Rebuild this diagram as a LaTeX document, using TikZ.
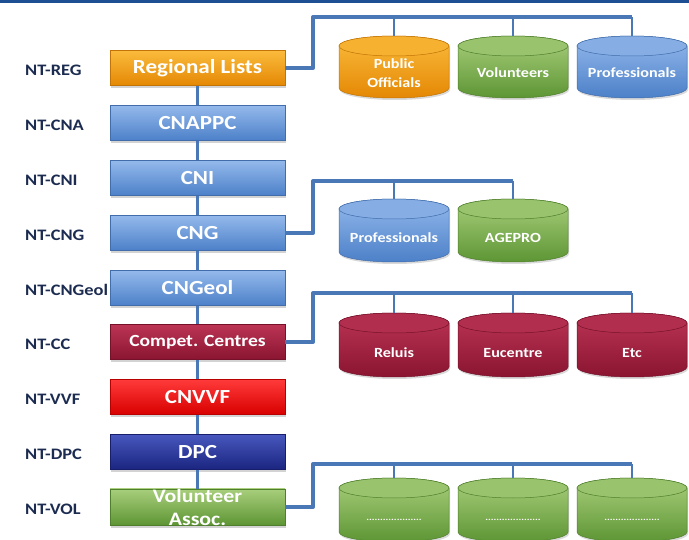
\documentclass[tikz,border=0pt]{standalone}
\usepackage{fontspec}
\setmainfont{Carlito}[FakeStretch=1.15]
\usetikzlibrary{shadows}
\definecolor{orT}{HTML}{FBBB3C}\definecolor{orB}{HTML}{E48805}
\definecolor{blT}{HTML}{94B9EC}\definecolor{blB}{HTML}{4C80C8}
\definecolor{crT}{HTML}{BC3455}\definecolor{crB}{HTML}{8A1531}
\definecolor{rdT}{HTML}{FF3A3A}\definecolor{rdB}{HTML}{D80000}
\definecolor{nvT}{HTML}{4757BD}\definecolor{nvB}{HTML}{1B2580}
\definecolor{grT}{HTML}{A9CF7C}\definecolor{grB}{HTML}{5D9534}
\definecolor{conn}{HTML}{4A78B6}
\definecolor{labc}{HTML}{1C2B50}
\definecolor{barc}{HTML}{1E4F94}
\newcommand\dbcyl[8]{% name, cx, top, height, light, dark, text, text offset
  \shade[top color=#5, bottom color=#6, draw=#6!85!black, line width=0.5pt,
    drop shadow={shadow xshift=1pt, shadow yshift=-2pt, opacity=0.3}]
    (#2-55,#3+10) -- (#2-55,#3+#4-10)
    arc[start angle=180, end angle=360, x radius=55pt, y radius=10pt]
    -- (#2+55,#3+10)
    arc[start angle=0, end angle=180, x radius=55pt, y radius=10pt] -- cycle;
  \filldraw[fill=#5!80!#6, draw=#6!85!black, line width=0.5pt]
    (#2,#3+10) ellipse[x radius=55pt, y radius=10pt];
  \node[cylbox, minimum height=#4pt] (#1) at (#2,#3+#4/2) {};
  \node[cyltext] (#1-t) at (#2,#3+#8) {#7};
}
\begin{document}
\begin{tikzpicture}[x=1pt,y=-1pt,
  box/.style 2 args={minimum width=175pt, minimum height=35pt, inner sep=0pt,
    top color=#1, bottom color=#2, draw=#2!85!black, line width=0.4pt,
    text=white, font=\fontsize{20}{22}\selectfont\bfseries, align=center,
    drop shadow={shadow xshift=1pt, shadow yshift=-2.5pt, opacity=0.35}},
  lab/.style={anchor=west, inner sep=0pt, text=labc, font=\fontsize{16}{18}\selectfont\bfseries},
  cylbox/.style={minimum width=110pt, inner sep=0pt, draw=none},
  cyltext/.style={text=white, align=center, inner sep=0pt, font=\fontsize{14}{19}\selectfont\bfseries},
  spine/.style={conn, line width=3pt},
  branch/.style={conn, line width=4pt, line join=round},
  drop/.style={conn, line width=2.5pt}]
\useasboundingbox (0,0) rectangle (689,540);
\fill[barc] (0,0) rectangle (689,3);

% left labels
\node[lab] (lreg) at (25,70) {NT-REG};
\node[lab] (lcna) at (25,125) {NT-CNA};
\node[lab] (lcni) at (25,180) {NT-CNI};
\node[lab] (lcng) at (25,235) {NT-CNG};
\node[lab] (lgeo) at (25,290) {NT-CNGeol};
\node[lab] (lcc) at (25,344) {NT-CC};
\node[lab] (lvvf) at (25,399) {NT-VVF};
\node[lab] (ldpc) at (25,454) {NT-DPC};
\node[lab] (lvol) at (25,509) {NT-VOL};

% main column
\node[box={orT}{orB}] (reg) at (197.5,68) {Regional Lists};
\node[box={blT}{blB}] (cna) at (197.5,123) {CNAPPC};
\node[box={blT}{blB}] (cni) at (197.5,178) {CNI};
\node[box={blT}{blB}] (cng) at (197.5,233) {CNG};
\node[box={blT}{blB}] (geo) at (197.5,288) {CNGeol};
\node[box={crT}{crB}, font=\fontsize{17}{19}\selectfont\bfseries] (cc) at (197.5,342) {Compet. Centres};
\node[box={rdT}{rdB}] (vvf) at (197.5,397) {CNVVF};
\node[box={nvT}{nvB}] (dpc) at (197.5,452) {DPC};
\node[box={grT}{grB}, font=\fontsize{19}{23}\selectfont\bfseries] (vol) at (197.5,507) {Volunteer\\Assoc.};

\draw[spine] (reg) edge (cna) (cna) edge (cni) (cni) edge (cng) (cng) edge (geo)
  (geo) edge (cc) (cc) edge (vvf) (vvf) edge (dpc) (dpc) edge (vol);

% cylinders
\dbcyl{c11}{394}{36}{62}{orT}{orB}{Public\\Officials}{37}
\dbcyl{c12}{513}{36}{62}{grT}{grB}{Volunteers}{37}
\dbcyl{c13}{632}{36}{62}{blT}{blB}{Professionals}{37}
\dbcyl{c21}{394}{199}{63}{blT}{blB}{Professionals}{39}
\dbcyl{c22}{513}{199}{63}{grT}{grB}{AGEPRO}{39}
\dbcyl{c31}{394}{313}{64}{crT}{crB}{Reluis}{40}
\dbcyl{c32}{513}{313}{64}{crT}{crB}{Eucentre}{40}
\dbcyl{c33}{632}{313}{64}{crT}{crB}{Etc}{40}
\dbcyl{c41}{394}{478}{64}{grT}{grB}{\fontsize{9}{10}\selectfont ....................}{42}
\dbcyl{c42}{513}{478}{64}{grT}{grB}{\fontsize{9}{10}\selectfont ....................}{42}
\dbcyl{c43}{632}{478}{64}{grT}{grB}{\fontsize{9}{10}\selectfont ....................}{42}

% branches
\coordinate (h1) at (313,17);
\coordinate (h2) at (313,181);
\coordinate (h3) at (313,293);
\coordinate (h4) at (313,464);
\draw[branch] (reg.east) -- (reg.east -| h1) -- (h1) -- (h1 -| c13.north);
\draw[drop] (h1 -| c11.north) -- (c11.north);
\draw[drop] (h1 -| c12.north) -- (c12.north);
\draw[drop] (h1 -| c13.north) -- (c13.north);
\draw[branch] (cng.east) -- (cng.east -| h2) -- (h2) -- (h2 -| c22.north);
\draw[drop] (h2 -| c21.north) -- (c21.north);
\draw[drop] (h2 -| c22.north) -- (c22.north);
\draw[branch] (cc.east) -- (cc.east -| h3) -- (h3) -- (h3 -| c33.north);
\draw[drop] (h3 -| c31.north) -- (c31.north);
\draw[drop] (h3 -| c32.north) -- (c32.north);
\draw[drop] (h3 -| c33.north) -- (c33.north);
\draw[branch] (vol.east) -- (vol.east -| h4) -- (h4) -- (h4 -| c43.north);
\draw[drop] (h4 -| c41.north) -- (c41.north);
\draw[drop] (h4 -| c42.north) -- (c42.north);
\draw[drop] (h4 -| c43.north) -- (c43.north);
\end{tikzpicture}
\end{document}
